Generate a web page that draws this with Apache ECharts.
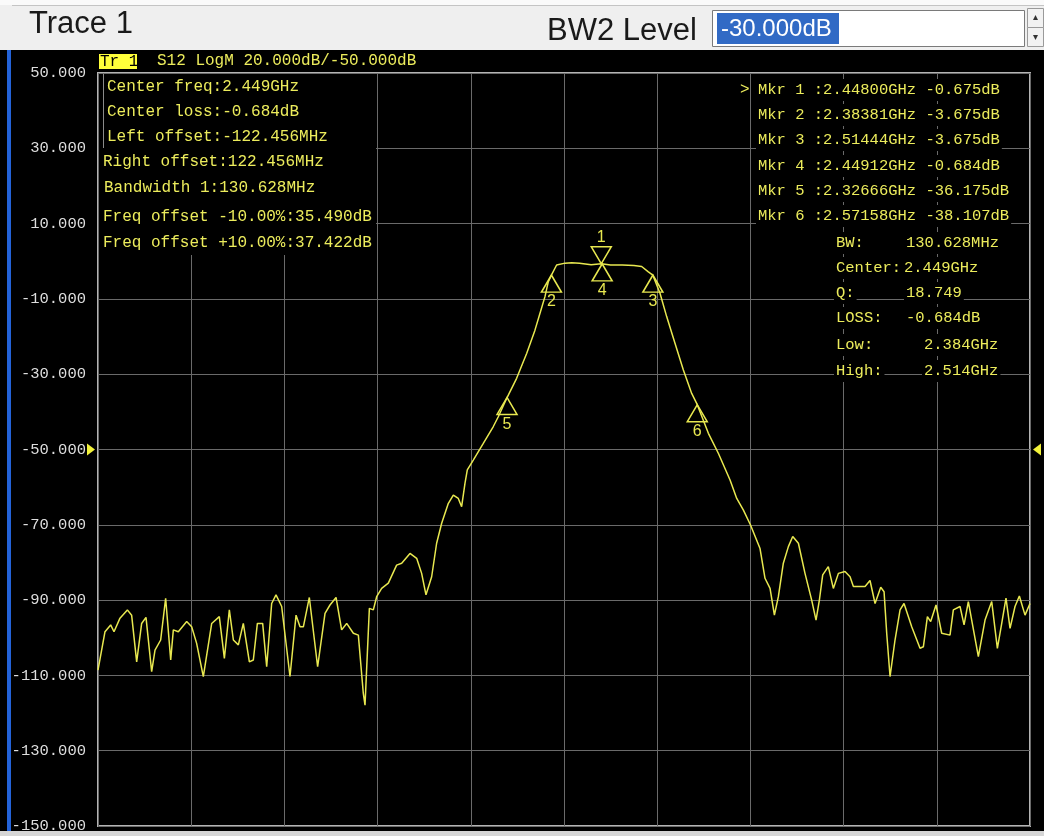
<!DOCTYPE html>
<html><head><meta charset="utf-8">
<script src="https://cdn.jsdelivr.net/npm/echarts@6/dist/echarts.min.js"></script>
<style>html,body{margin:0;padding:0;background:#000;overflow:hidden}#c{width:1044px;height:836px}</style>
</head><body><div id="c"></div>
<script>
// ---- Trace data (frequency in MHz, S12 in dB) ----
const freqMHz = [1800, 1809.0, 1816.3, 1820.6, 1828.3, 1837.8, 1843.3, 1849.8, 1856.2, 1861.8,
  1869.1, 1873.4, 1880.7, 1887.1, 1893.6, 1897.0, 1903.4, 1914.2, 1920.6, 1927.0,
  1935.6, 1946.4, 1956.2, 1962.7, 1969.1, 1974.3, 1980.7, 1987.1, 1994.9, 2000.0,
  2005.2, 2012.0, 2017.2, 2023.6, 2029.2, 2036.5, 2047.2, 2055.0, 2060.1, 2064.4,
  2072.1, 2082.8, 2092.3, 2098.7, 2106.5, 2113.7, 2120.2, 2128.8, 2135.2, 2141.6,
  2143.8, 2149.4, 2154.5, 2158.8, 2165.2, 2173.8, 2184.5, 2191.0, 2201.7, 2210.3,
  2216.7, 2222.3, 2229.6, 2236.0, 2242.5, 2251.1, 2257.5, 2263.9, 2268.2, 2272.5,
  2275.5, 2283.2, 2296.1, 2309.0, 2315.4, 2326.7, 2339.0, 2351.9, 2362.6, 2369.1,
  2375.5, 2379.8, 2383.8, 2390.5, 2401.3, 2410, 2420, 2435, 2448.0, 2460,
  2475, 2490, 2500, 2508.6, 2514.4, 2523.6, 2532.2, 2542.9, 2553.7, 2564.4,
  2571.6, 2585.9, 2598.7, 2613.8, 2622.4, 2631, 2640, 2652.4, 2658.8, 2665.3,
  2670.9, 2676.0, 2682.4, 2688.9, 2694.5, 2701.8, 2710.3, 2718.9, 2724.5, 2728.8,
  2733.1, 2740.3, 2746.8, 2753.3, 2761.8, 2768.3, 2772.6, 2787.6, 2794.0, 2800.5,
  2807.8, 2812.1, 2815.5, 2819.8, 2826.2, 2832.7, 2837.8, 2847.7, 2858.4, 2862.7,
  2867.9, 2872.1, 2879.0, 2886.3, 2897.0, 2901.3, 2909.9, 2915.1, 2920.6, 2933.5,
  2942.1, 2950.7, 2958.0, 2963.6, 2969.1, 2974.3, 2980.7, 2986.3, 2993.6, 3000];
const s12Db = [-108.6, -98.4, -96.6, -98.4, -94.8, -92.6, -94.0, -106.4, -96.2, -94.6,
  -109.0, -103.3, -100.6, -89.5, -105.9, -97.9, -98.4, -95.7, -97.1, -101.5,
  -110.3, -96.2, -94.4, -105.5, -92.6, -100.6, -101.9, -96.2, -106.4, -105.9,
  -96.2, -96.2, -107.7, -90.9, -88.6, -91.7, -110.3, -94.0, -97.1, -97.1,
  -89.3, -107.7, -93.5, -91.3, -89.3, -97.9, -96.2, -98.8, -99.3, -114.8,
  -117.9, -92.2, -92.6, -89.1, -86.9, -85.5, -80.7, -80.2, -77.6, -78.9,
  -82.9, -88.6, -83.8, -74.9, -69.6, -64.3, -62.1, -63.0, -65.2, -59.0,
  -55.4, -52.8, -48.4, -43.9, -41.3, -36.2, -31.1, -24.5, -18.3, -13.8,
  -9.4, -5.4, -3.7, -1.0, -0.5, -0.4, -0.5, -0.9, -0.68, -1.0,
  -1.0, -1.1, -1.4, -2.8, -3.7, -8.5, -14.7, -21.8, -28.9, -35.1,
  -38.1, -45.7, -51.0, -58.1, -63.0, -66.1, -70.0, -76.3, -84.2, -86.9,
  -94.0, -89.1, -80.2, -75.8, -73.1, -74.9, -82.9, -90.0, -95.3, -90.0,
  -83.3, -81.1, -86.9, -82.9, -82.4, -83.8, -86.4, -86.4, -84.8, -90.9,
  -86.6, -87.8, -98.8, -110.3, -100.6, -92.6, -90.9, -97.1, -102.8, -102.4,
  -94.4, -95.7, -91.3, -98.8, -99.3, -92.6, -91.7, -96.6, -90.4, -105.0,
  -95.3, -90.4, -102.8, -96.2, -89.5, -97.5, -91.7, -88.9, -94.0, -90.9];

// ---- Markers ----
const markerNames = ['1', '2', '3', '4', '5', '6'];
const markerFreqGHz = [2.44800, 2.38381, 2.51444, 2.44912, 2.32666, 2.57158];
const markerDb = [-0.675, -3.675, -3.675, -0.684, -36.175, -38.107];

// ---- Axis setup ----
const yMin = -150, yMax = 50, yStep = 20;
const fStart = 1800, fStop = 3000, fStep = 120;
const refLevel = -50;

// ---- Annotation texts ----
const headerTitle = 'Trace 1';
const levelLabel = 'BW2 Level';
const levelValue = '-30.000dB';
const traceTag = 'Tr 1';
const traceInfo = 'S12 LogM 20.000dB/-50.000dB';
const leftLines = ['Center freq:2.449GHz', 'Center loss:-0.684dB', 'Left offset:-122.456MHz',
  'Right offset:122.456MHz', 'Bandwidth 1:130.628MHz', 'Freq offset -10.00%:35.490dB',
  'Freq offset +10.00%:37.422dB'];
const bwLabels = ['BW:', 'Center:', 'Q:', 'LOSS:', 'Low:', 'High:'];
const bwValues = ['130.628MHz', '2.449GHz', '18.749', '-0.684dB', '2.384GHz', '2.514GHz'];

const YEL = '#E8E850';
const TXT = '#ECEC5C';
const MONO = '"Liberation Mono", "DejaVu Sans Mono", monospace';

const chart = echarts.init(document.getElementById('c'), null, {renderer: 'canvas'});

const seriesData = freqMHz.map((f, i) => [f, s12Db[i]]);

const triUp = 'path://M0,0L10,17L-10,17Z';
const triDown = 'path://M-10,0L10,0L0,17Z';

const markData = markerNames.map((n, i) => {
  const down = n === '1';
  return {
    name: n,
    coord: [markerFreqGHz[i] * 1000, markerDb[i]],
    symbol: down ? triDown : triUp,
    symbolSize: [20, 17],
    symbolKeepAspect: false,
    symbolOffset: [0, down ? -8.5 : 8.5],
    itemStyle: {color: 'rgba(0,0,0,0)', borderColor: YEL, borderWidth: 1.5},
    label: {show: true, position: down ? 'top' : 'bottom', formatter: n, color: YEL,
      fontSize: 16, fontFamily: '"Liberation Sans", Arial, sans-serif', distance: 1}
  };
});
markData.push({
  name: 'refL', coord: [fStart, refLevel], symbol: 'path://M0,0L9,6L0,12Z',
  symbolSize: [8, 12], symbolOffset: [-7, 0], itemStyle: {color: '#F2F23A'}, label: {show: false}
});
markData.push({
  name: 'refR', coord: [fStop, refLevel], symbol: 'path://M9,0L0,6L9,12Z',
  symbolSize: [8, 12], symbolOffset: [7, 0], itemStyle: {color: '#F2F23A'}, label: {show: false}
});

function txt(x, y, text, o) {
  o = o || {};
  return {
    type: 'text', x: x, y: y, z: o.z || 100, silent: true,
    style: {
      text: text, fill: o.fill || TXT, fontSize: o.size || 16,
      fontFamily: o.family || MONO, align: o.align || 'left', verticalAlign: 'middle',
      backgroundColor: o.bg, padding: o.pad
    }
  };
}

const g = [];
// header
g.push({type: 'rect', z: 50, shape: {x: 0, y: 0, width: 1044, height: 50}, style: {fill: '#EFEFEF'}});
g.push({type: 'rect', z: 50, shape: {x: 0, y: 0, width: 1044, height: 5}, style: {fill: '#FAFAFA'}});
g.push({type: 'line', z: 51, shape: {x1: 12, y1: 5.5, x2: 1044, y2: 5.5}, style: {stroke: '#C4C4C4', lineWidth: 1}});
g.push(txt(29, 24, headerTitle, {fill: '#1A1A1A', size: 31, family: '"Liberation Sans", Arial, sans-serif', z: 60}));
g.push(txt(547, 31, levelLabel, {fill: '#1A1A1A', size: 31, family: '"Liberation Sans", Arial, sans-serif', z: 60}));
g.push({type: 'rect', z: 55, shape: {x: 712.5, y: 10.5, width: 312, height: 36}, style: {fill: '#FFFFFF', stroke: '#7A7A7A', lineWidth: 1}});
g.push({type: 'rect', z: 56, shape: {x: 717, y: 13, width: 122, height: 31}, style: {fill: '#316AC5'}});
g.push(txt(721, 29, levelValue, {fill: '#FFFFFF', size: 24, family: '"Liberation Sans", Arial, sans-serif', z: 60}));
g.push({type: 'rect', z: 55, shape: {x: 1027.5, y: 8.5, width: 16, height: 19}, style: {fill: '#F2F2F2', stroke: '#9A9A9A', lineWidth: 1}});
g.push({type: 'rect', z: 55, shape: {x: 1027.5, y: 27.5, width: 16, height: 19}, style: {fill: '#F2F2F2', stroke: '#9A9A9A', lineWidth: 1}});
g.push({type: 'polygon', z: 56, shape: {points: [[1033, 20], [1038, 20], [1035.5, 15]]}, style: {fill: '#333'}});
g.push({type: 'polygon', z: 56, shape: {points: [[1033, 35], [1038, 35], [1035.5, 40]]}, style: {fill: '#333'}});
// left blue strip & bottom strip (kept below axis labels)
g.push({type: 'rect', z: -1, shape: {x: 7, y: 6, width: 4, height: 830}, style: {fill: '#2463D8'}});
g.push({type: 'rect', z: -1, shape: {x: 0, y: 831, width: 1044, height: 5}, style: {fill: '#D6D6D6'}});
// trace tag
g.push({type: 'rect', z: 90, shape: {x: 99, y: 54, width: 38, height: 15}, style: {fill: '#FFFF3A'}});
g.push(txt(100, 62, traceTag, {fill: '#000', size: 16}));
g.push(txt(157, 61, traceInfo, {size: 16}));
// left annotation box (covers grid)
const leftX = [105, 105, 105, 101, 102, 101, 101];
const leftY = [87, 112, 137, 162, 188, 217, 243];
g.push({type: 'rect', z: 95, shape: {x: 99, y: 74, width: 277, height: 181}, style: {fill: '#000'}});
g.push({type: 'line', z: 96, shape: {x1: 103.5, y1: 74, x2: 103.5, y2: 148}, style: {stroke: '#8A8A8A', lineWidth: 1}});
leftLines.forEach((s, i) => g.push(txt(leftX[i], leftY[i], s, {bg: '#000', pad: [3, 2, 3, 2]})));
// right marker table
const mkY = [90, 115, 140, 166, 191, 216];
g.push(txt(740, mkY[0], '>', {size: 16}));
markerNames.forEach((n, i) => {
  const s = 'Mkr ' + n + ' :' + markerFreqGHz[i].toFixed(5) + 'GHz ' + markerDb[i].toFixed(3) + 'dB';
  g.push(txt(756, mkY[i], s, {bg: '#000', pad: [3, 2, 3, 2], size: 15.5}));
});
const bwY = [243, 268, 293, 318, 345, 371];
const bwValX = [904, 902, 904, 904, 922, 922];
bwLabels.forEach((l, i) => {
  g.push(txt(834, bwY[i], l, {bg: '#000', pad: [3, 2, 3, 2], size: 15.5}));
  g.push(txt(bwValX[i], bwY[i], bwValues[i], {bg: '#000', pad: [3, 2, 3, 2], size: 15.5}));
});

chart.setOption({
  backgroundColor: '#000',
  animation: false,
  grid: {left: 98, right: 14, top: 73, bottom: 10, show: true, borderColor: '#B4B4B4', borderWidth: 2, backgroundColor: 'transparent'},
  xAxis: {
    type: 'value', min: fStart, max: fStop, interval: fStep,
    axisLabel: {show: false}, axisTick: {show: false}, axisLine: {show: false},
    splitLine: {show: true, lineStyle: {color: '#6A6A6A', width: 1}}
  },
  yAxis: {
    type: 'value', min: yMin, max: yMax, interval: yStep, z: 5,
    axisLabel: {show: true, color: '#DEDEDE', fontFamily: MONO, fontSize: 15.5, margin: 12,
      formatter: v => v.toFixed(3)},
    axisTick: {show: false}, axisLine: {show: false},
    splitLine: {show: true, lineStyle: {color: '#6A6A6A', width: 1}}
  },
  series: [{
    type: 'line', data: seriesData, showSymbol: false, symbol: 'none', smooth: false,
    lineStyle: {color: YEL, width: 1.5}, z: 10,
    markPoint: {data: markData, z: 12}
  }],
  graphic: g
});
</script></body></html>
